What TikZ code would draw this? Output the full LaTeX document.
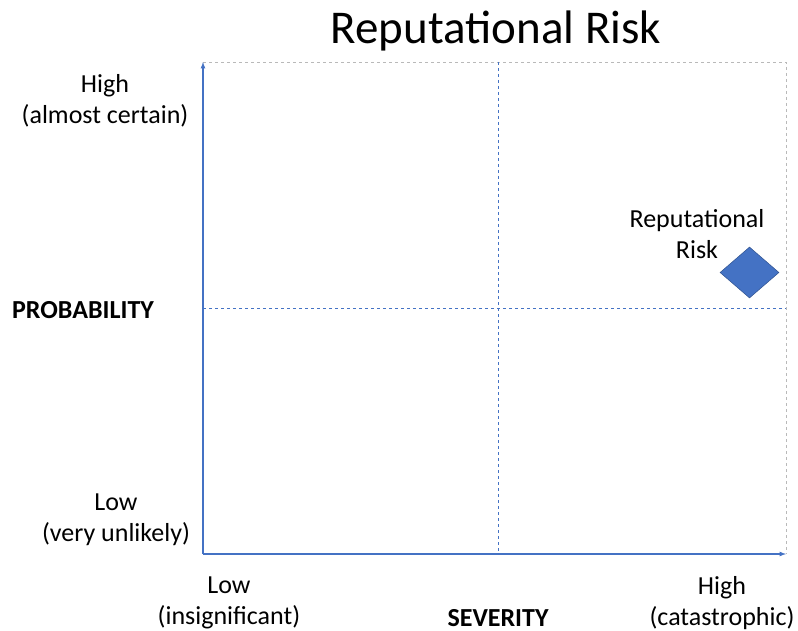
\documentclass[tikz,border=0pt]{standalone}
\usepackage{fontspec}
\setmainfont{Carlito}
\usetikzlibrary{positioning}
\usetikzlibrary{shapes.geometric}
\usetikzlibrary{arrows}
\definecolor{officeblue}{HTML}{4472C4}
\definecolor{darkblue}{HTML}{2F528F}

\begin{document}
\begin{tikzpicture}[x=1pt, y=-1pt,
				axisline/.style={draw=officeblue, line width=1.2pt, -latex},
				midline/.style={draw=officeblue, dashed, line width=0.8pt},
				frameline/.style={draw=gray!55, dashed, line width=0.8pt},
				lbl/.style={font=\fontsize{26}{31}\selectfont},
				boldlbl/.style={font=\fontsize{26}{31}\selectfont\bfseries},
				every text node part/.style={align=center}]
				\useasboundingbox (0,0) rectangle (798,631);
				
				\coordinate (origin) at (203,554);
				\coordinate (ytop) at (203,62);
				\coordinate (xend) at (786,554);
				\coordinate (corner) at (786,62);
				\coordinate (xmidtop) at (498,62);
				\coordinate (xmidbot) at (498,554);
				\coordinate (ymidleft) at (203,308);
				\coordinate (ymidright) at (786,308);
				
				\node[font=\fontsize{47}{52}\selectfont](title) at (496,31) {Reputational Risk};
				
				\node[lbl](probhigh) at (105,101) {High\\(almost certain)};
				\node[boldlbl](prob) at (83,310.5) {PROBABILITY};
				\node[lbl](problow) at (116,520) {Low\\(very unlikely)};
				
				\node[lbl](sevlow) at (229,603) {Low\\(insignificant)};
				\node[boldlbl](sev) at (498,618) {SEVERITY};
				\node[lbl](sevhigh) at (722,603) {High\\(catastrophic)};
				
				\node[diamond, fill=officeblue, draw=darkblue, line width=0.5pt, inner sep=0pt, minimum width=59pt, minimum height=51pt](risk) at (749.5,272.5) {};
				\node[lbl](risklabel) at (697,234) {Reputational\\Risk};
				
				\draw [frameline] (ytop) -- (corner) -- (xend);
				\draw [midline] (xmidtop) -- (xmidbot);
				\draw [midline] (ymidleft) -- (ymidright);
				\draw [axisline] (origin) -- (ytop);
				\draw [axisline] (origin) -- (xend);
			\end{tikzpicture}
\end{document}
